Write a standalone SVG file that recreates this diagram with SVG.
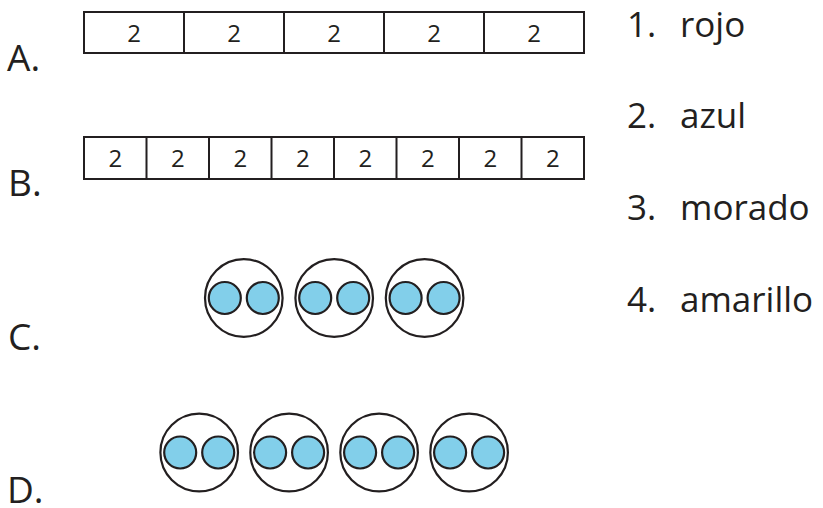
<svg xmlns="http://www.w3.org/2000/svg" width="823" height="508" viewBox="0 0 823 508">
<style>
.box{fill:#fff;stroke:#231f20;stroke-width:2}
.div{stroke:#231f20;stroke-width:2}
.num{font-family:"Open Sans","Noto Sans",sans-serif;font-size:24px;fill:#231f20;text-anchor:middle}
.lbl{font-family:"Open Sans","Noto Sans",sans-serif;font-size:37px;fill:#231f20}
.opt{font-family:"Open Sans","Noto Sans",sans-serif;font-size:35px;fill:#231f20}
.big{fill:#fff;stroke:#231f20;stroke-width:2.2}
.dot{fill:#82cfea;stroke:#231f20;stroke-width:2.2}
</style>
<defs>
<g id="grp">
<circle class="big" cx="0" cy="0" r="38.8"/>
<circle class="dot" cx="-19" cy="0" r="16"/>
<circle class="dot" cx="19" cy="0" r="16"/>
</g>
</defs>
<g id="labelA"><text class="lbl" x="7" y="71">A.</text></g>
<g id="labelB"><text class="lbl" x="8" y="196">B.</text></g>
<g id="labelC"><text class="lbl" x="8" y="350">C.</text></g>
<g id="labelD"><text class="lbl" x="7" y="503">D.</text></g>
<g id="barA">
<rect class="box" x="84" y="12" width="500" height="41"/>
<path class="div" d="M184 12V53M284 12V53M384 12V53M484 12V53"/>
<text class="num" x="134" y="42">2</text>
<text class="num" x="234" y="42">2</text>
<text class="num" x="334" y="42">2</text>
<text class="num" x="434" y="42">2</text>
<text class="num" x="534" y="42">2</text>
</g>
<g id="barB">
<rect class="box" x="84" y="137" width="500" height="42"/>
<path class="div" d="M146.5 137V179M209 137V179M271.5 137V179M334 137V179M396.5 137V179M459 137V179M521.5 137V179"/>
<text class="num" x="115.25" y="167">2</text>
<text class="num" x="177.75" y="167">2</text>
<text class="num" x="240.25" y="167">2</text>
<text class="num" x="302.75" y="167">2</text>
<text class="num" x="365.25" y="167">2</text>
<text class="num" x="427.75" y="167">2</text>
<text class="num" x="490.25" y="167">2</text>
<text class="num" x="552.75" y="167">2</text>
</g>
<g id="groupsC">
<use href="#grp" x="243.8" y="298"/>
<use href="#grp" x="334.2" y="298"/>
<use href="#grp" x="424.6" y="298"/>
</g>
<g id="groupsD">
<use href="#grp" x="199.2" y="452.5"/>
<use href="#grp" x="289.1" y="452.5"/>
<use href="#grp" x="379.1" y="452.5"/>
<use href="#grp" x="469.1" y="452.5"/>
</g>
<g id="opt1"><text class="opt" x="627" y="37">1.</text><text class="opt" x="680" y="37">rojo</text></g>
<g id="opt2"><text class="opt" x="627" y="128">2.</text><text class="opt" x="680" y="128">azul</text></g>
<g id="opt3"><text class="opt" x="627" y="220">3.</text><text class="opt" x="680" y="220">morado</text></g>
<g id="opt4"><text class="opt" x="627" y="312">4.</text><text class="opt" x="680" y="312">amarillo</text></g>
<g id="connectors"></g>
</svg>
